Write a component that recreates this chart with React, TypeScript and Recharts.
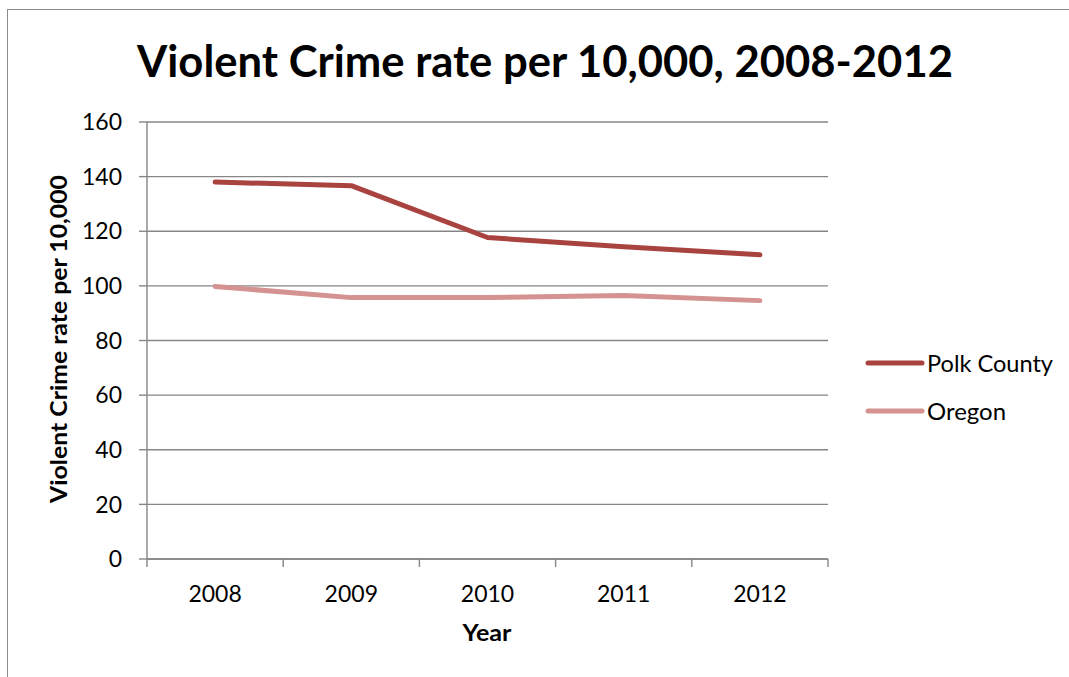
import React from 'react';
import { LineChart, Line, XAxis, YAxis, CartesianGrid } from 'recharts';

const years = ['2008', '2009', '2010', '2011', '2012'];
const polkCounty = [138.0, 136.7, 117.7, 114.3, 111.4];
const oregon = [99.8, 95.7, 95.7, 96.5, 94.6];
const yTicks = [0, 20, 40, 60, 80, 100, 120, 140, 160];
const seriesNames = ['Polk County', 'Oregon'];
const seriesKeys = ['polk', 'oregon'];
const seriesColors = ['#A9433F', '#D49290'];

const titleText = 'Violent Crime rate per 10,000, 2008-2012';
const yAxisTitle = 'Violent Crime rate per 10,000';
const xAxisTitle = 'Year';

const data = years.map((y, i) => ({ pos: i + 0.5, year: y, polk: polkCounty[i], oregon: oregon[i] }));
const xTicks: number[] = [];
years.forEach((_, i) => { xTicks.push(i); xTicks.push(i + 0.5); });
xTicks.push(years.length);

const FONT = 'Lato, "Open Sans", sans-serif';
const GRAY = '#868686';

const XTick = (props: any) => {
  const { x, y, payload } = props;
  const v = payload.value as number;
  if (Number.isInteger(v)) {
    return <line x1={x} x2={x} y1={y} y2={y + 8} stroke={GRAY} strokeWidth={1.4} />;
  }
  return (
    <text x={x} y={y + 43} textAnchor="middle" fontFamily={FONT} fontSize={23} fill="#000">
      {years[Math.floor(v)]}
    </text>
  );
};

const legendTextLen = [126, 79];

export default function App() {
  return (
    <div style={{ position: 'absolute', left: 0, top: 0, width: 1069, height: 677, overflow: 'hidden', background: '#fff' }}>
      <div style={{ position: 'absolute', left: 7, top: 9, width: 1200, height: 800, border: '1.5px solid #8a8a8a' }} />
      <div style={{ position: 'absolute', left: 0, top: 0 }}>
        <LineChart width={1069} height={677} data={data} margin={{ top: 122, right: 241, bottom: 58, left: 87 }}>
          <CartesianGrid vertical={false} stroke={GRAY} strokeWidth={1.4} />
          <XAxis
            dataKey="pos"
            type="number"
            domain={[0, years.length]}
            ticks={xTicks}
            interval={0}
            tick={<XTick />}
            tickLine={false}
            tickSize={0}
            tickMargin={0}
            height={60}
            axisLine={{ stroke: GRAY, strokeWidth: 1.4 }}
          />
          <YAxis
            width={60}
            domain={[0, 160]}
            ticks={yTicks}
            interval={0}
            tickSize={8}
            tickMargin={17}
            tickLine={{ stroke: GRAY, strokeWidth: 1.4 }}
            axisLine={{ stroke: GRAY, strokeWidth: 1.4 }}
            tick={{ fontFamily: FONT, fontSize: 23, fill: '#000' }}
          />
          {seriesKeys.map((k, i) => (
            <Line
              key={k}
              type="linear"
              dataKey={k}
              name={seriesNames[i]}
              stroke={seriesColors[i]}
              strokeWidth={5}
              strokeLinecap="round"
              strokeLinejoin="round"
              dot={false}
              activeDot={false}
              isAnimationActive={false}
            />
          ))}
        </LineChart>
      </div>
      <svg width={1069} height={677} style={{ position: 'absolute', left: 0, top: 0, pointerEvents: 'none' }}>
        <text x={137} y={77} fontFamily={FONT} fontWeight={700} fontSize={43} fill="#000" textLength={816} lengthAdjust="spacingAndGlyphs">
          {titleText}
        </text>
        <text
          x={67}
          y={339}
          transform="rotate(-90 67 339)"
          textAnchor="middle"
          fontFamily={FONT}
          fontWeight={700}
          fontSize={23}
          fill="#000"
          textLength={328}
          lengthAdjust="spacingAndGlyphs"
        >
          {yAxisTitle}
        </text>
        <text x={487} y={641} textAnchor="middle" fontFamily={FONT} fontWeight={700} fontSize={23} fill="#000" textLength={49} lengthAdjust="spacingAndGlyphs">
          {xAxisTitle}
        </text>
        {seriesNames.map((n, i) => (
          <g key={n}>
            <line x1={868} x2={922} y1={363 + i * 48} y2={363 + i * 48} stroke={seriesColors[i]} strokeWidth={5} strokeLinecap="round" />
            <text x={927} y={372 + i * 48} fontFamily={FONT} fontSize={23} fill="#000" textLength={legendTextLen[i]} lengthAdjust="spacingAndGlyphs">
              {n}
            </text>
          </g>
        ))}
      </svg>
    </div>
  );
}
